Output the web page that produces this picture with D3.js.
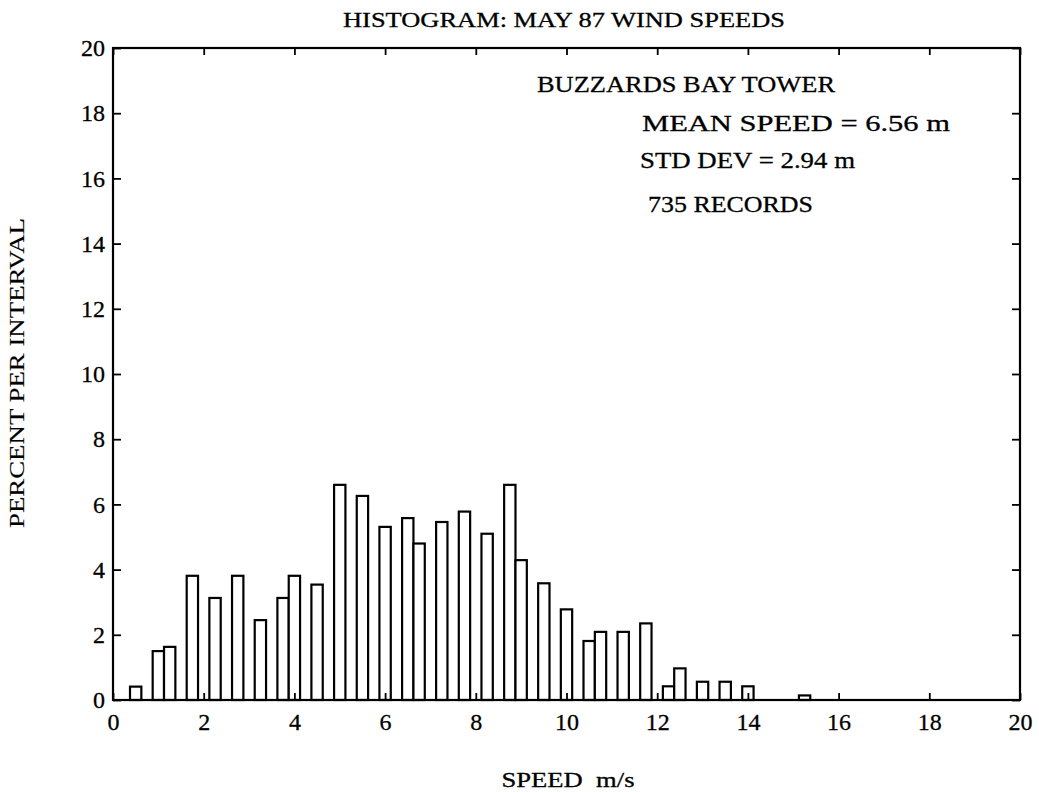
<!DOCTYPE html>
<html>
<head>
<meta charset="utf-8">
<script src="https://cdn.jsdelivr.net/npm/d3@7"></script>
<style>
  html, body { margin: 0; padding: 0; background: #fff; }
  svg { display: block; }
  text { font-family: "Liberation Serif", "Times New Roman", serif; fill: #000; stroke: #000; stroke-width: 0.3px; }
</style>
</head>
<body>
<svg id="chart" width="1039" height="792"></svg>
<script>
// Bin centers (m/s) and percent per interval (bin width 0.25 m/s)
const binCenters = [0.5, 1.0, 1.25, 1.75, 2.25, 2.75, 3.25, 3.75, 4.0, 4.5,
                    5.0, 5.5, 6.0, 6.5, 6.75, 7.25, 7.75, 8.25, 8.75, 9.0,
                    9.5, 10.0, 10.5, 10.75, 11.25, 11.75, 12.25, 12.5, 13.0, 13.5,
                    14.0, 15.25];
const percents = [0.41, 1.50, 1.63, 3.81, 3.13, 3.81, 2.45, 3.13, 3.81, 3.54,
                  6.60, 6.26, 5.31, 5.58, 4.80, 5.46, 5.78, 5.10, 6.60, 4.29,
                  3.58, 2.78, 1.81, 2.09, 2.09, 2.35, 0.42, 0.97, 0.56, 0.56,
                  0.42, 0.14];
const binWidth = 0.25;
const xTicks = [0, 2, 4, 6, 8, 10, 12, 14, 16, 18, 20];
const yTicks = [0, 2, 4, 6, 8, 10, 12, 14, 16, 18, 20];
const titleText = "HISTOGRAM: MAY 87 WIND SPEEDS";
const xLabel = "SPEED  m/s";
const yLabel = "PERCENT PER INTERVAL";
const notes = ["BUZZARDS BAY TOWER", "MEAN SPEED = 6.56 m", "STD DEV = 2.94 m", "735 RECORDS"];

const SERIF = '"Liberation Serif", "Times New Roman", serif';
const svg = d3.select("#chart");
const L = 113, R = 1020, T = 48, B = 700;

const x = d3.scaleLinear().domain([0, 20]).range([L, R]);
const y = d3.scaleLinear().domain([0, 20]).range([B, T]);

// Bars
svg.append("g").selectAll("rect")
  .data(binCenters.map((c, i) => ({c, v: percents[i]})))
  .join("rect")
  .attr("x", d => x(d.c - binWidth / 2))
  .attr("width", d => x(d.c + binWidth / 2) - x(d.c - binWidth / 2))
  .attr("y", d => y(d.v))
  .attr("height", d => y(0) - y(d.v))
  .attr("fill", "#fff")
  .attr("stroke", "#000")
  .attr("stroke-width", 2.2);

const fontSize = 24;
function styleAxis(g, hideLabels) {
  g.attr("font-family", SERIF).attr("font-size", fontSize);
  g.select(".domain").remove();
  g.selectAll(".tick line").attr("stroke", "#000").attr("stroke-width", 1.8);
  g.selectAll(".tick text")
    .attr("font-family", SERIF)
    .style("font-family", SERIF)
    .style("font-size", fontSize + "px")
    .attr("fill", "#000");
  if (hideLabels) g.selectAll(".tick text").remove();
}

svg.append("g").attr("transform", `translate(0,${B})`)
  .call(d3.axisBottom(x).tickValues(xTicks).tickSize(-7).tickPadding(13).tickFormat(d3.format("d")))
  .call(g => styleAxis(g, false));
svg.append("g").attr("transform", `translate(0,${T})`)
  .call(d3.axisTop(x).tickValues(xTicks).tickSize(-7))
  .call(g => styleAxis(g, true));
svg.append("g").attr("transform", `translate(${L},0)`)
  .call(d3.axisLeft(y).tickValues(yTicks).tickSize(-8).tickPadding(8).tickFormat(d3.format("d")))
  .call(g => styleAxis(g, false));
svg.append("g").attr("transform", `translate(${R},0)`)
  .call(d3.axisRight(y).tickValues(yTicks).tickSize(-8))
  .call(g => styleAxis(g, true));

// Frame
svg.append("rect")
  .attr("x", L).attr("y", T)
  .attr("width", R - L).attr("height", B - T)
  .attr("fill", "none").attr("stroke", "#000").attr("stroke-width", 2.2);

// Title
svg.append("text")
  .attr("x", 564).attr("y", 27)
  .attr("text-anchor", "middle")
  .attr("textLength", 442).attr("lengthAdjust", "spacingAndGlyphs")
  .style("font-size", "22px")
  .text(titleText);

// Axis labels
svg.append("text")
  .attr("x", 568).attr("y", 787)
  .attr("text-anchor", "middle")
  .attr("xml:space", "preserve")
  .attr("textLength", 133).attr("lengthAdjust", "spacingAndGlyphs")
  .style("white-space", "pre")
  .style("font-size", "22px")
  .text(xLabel);

svg.append("text")
  .attr("transform", "translate(24,373) rotate(-90)")
  .attr("text-anchor", "middle")
  .attr("textLength", 310).attr("lengthAdjust", "spacingAndGlyphs")
  .style("font-size", "21px")
  .style("stroke-width", "0.15px")
  .text(yLabel);

// Annotations
const noteX = [537, 642, 640, 648];
const noteY = [92, 131, 168, 212];
const noteW = [298, 308, 215, 165];
svg.append("g").selectAll("text")
  .data(notes)
  .join("text")
  .attr("x", (d, i) => noteX[i])
  .attr("y", (d, i) => noteY[i])
  .attr("textLength", (d, i) => noteW[i])
  .attr("lengthAdjust", "spacingAndGlyphs")
  .style("font-size", "24px")
  .text(d => d);
</script>
</body>
</html>
